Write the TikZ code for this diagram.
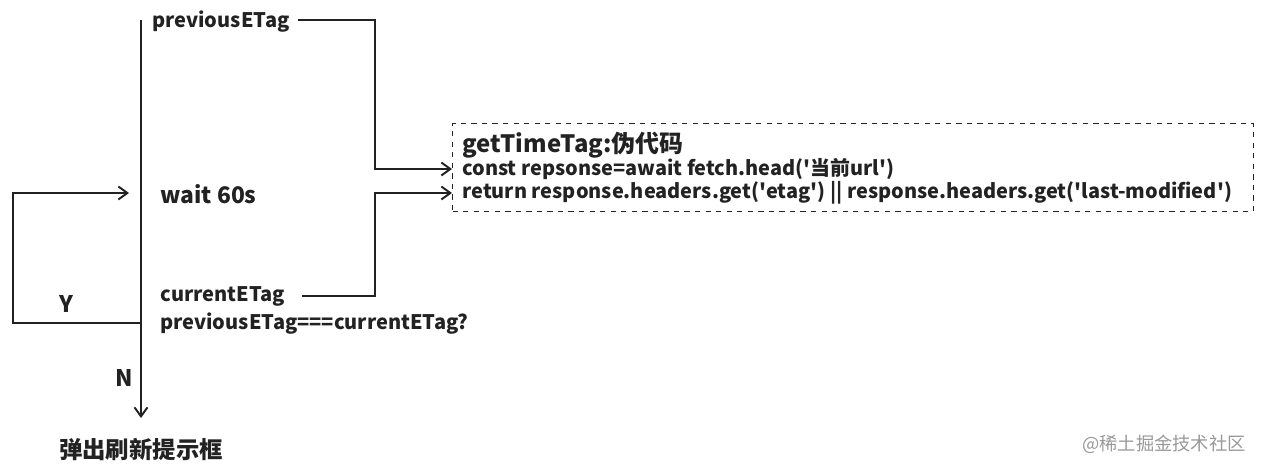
\documentclass[tikz,border=0pt]{standalone}
\usepackage{fontspec}
\setmainfont{Noto Sans CJK SC}
\usetikzlibrary{arrows.meta}

\definecolor{ink}{HTML}{222222}
\newcommand{\sq}{\textquotesingle}
\tikzset{
    flow/.style={line width=1.1pt, draw=ink},
    flowarrow/.style={flow, -{Straight Barb[length=1.8mm, width=2.6mm, line width=1.1pt]}},
    etext/.style={font=\bfseries\fontsize{11.4}{14}\selectfont, text=ink, inner sep=0pt, anchor=west},
    codeline/.style={font=\bfseries\fontsize{11.35}{13}\selectfont, text=ink, inner ysep=0pt, inner xsep=0.2cm, anchor=west},
}

\begin{document}
\begin{tikzpicture}[x=0.02cm, y=-0.02cm]
    \useasboundingbox (0,0) rectangle (1263,472);

    % Main timeline
    \coordinate (top) at (141,20);
    \coordinate (bottom) at (141,418);
    \coordinate (split) at (141,323);
    \draw[flowarrow] (top) -- (bottom);

    % Labels along the timeline
    \node[etext] (prev) at (152,22) {previousETag};
    \node[etext, font=\bfseries\fontsize{13}{15}\selectfont] (wait) at (160,194) {wait 60s};
    \node[etext] (curr) at (160,296) {currentETag};
    \node[etext] (cmp) at (160,324) {previousETag===currentETag?};
    \node[etext, anchor=center, font=\bfseries\fontsize{13.3}{15}\selectfont] (popup) at (141,450) {弹出刷新提示框};

    % Y loop back to wait
    \coordinate (loopl) at (13,323);
    \coordinate (loopin) at (129,193);
    \draw[flowarrow] (split) -- (loopl) |- (loopin);
    \node[etext, anchor=center, font=\bfseries\fontsize{13}{15}\selectfont] (yes) at (66,304) {Y};
    \node[etext, anchor=center, font=\bfseries\fontsize{13}{15}\selectfont] (no) at (124,378) {N};

    % Pseudo code box
    \node[draw=ink, dashed, line width=0.6pt, anchor=north west, minimum width=16.02cm, minimum height=1.76cm] (box) at (452,123) {};
    \node[codeline, font=\bfseries\fontsize{13.6}{15}\selectfont] (title) at (452,145) {getTimeTag:伪代码};
    \node[codeline] (code1) at (452,169) {const repsonse=await fetch.head(\sq 当前url\sq)};
    \node[codeline] (code2) at (452,193) {return response.headers.get(\sq etag\sq) || response.headers.get(\sq last-modified\sq)};

    % Connectors into the box
    \coordinate (jx) at (375,0);
    \coordinate (prevout) at (298,20);
    \coordinate (currout) at (302,296);
    \draw[flowarrow] (prevout) -- (prevout -| jx) |- (code1.west);
    \draw[flowarrow] (currout) -- (currout -| jx) |- (code2.west);

    % Watermark
    \node[font=\fontsize{10.4}{12}\selectfont, text=black!40, anchor=east] (mark) at (1252,444) {@稀土掘金技术社区};
\end{tikzpicture}
\end{document}
